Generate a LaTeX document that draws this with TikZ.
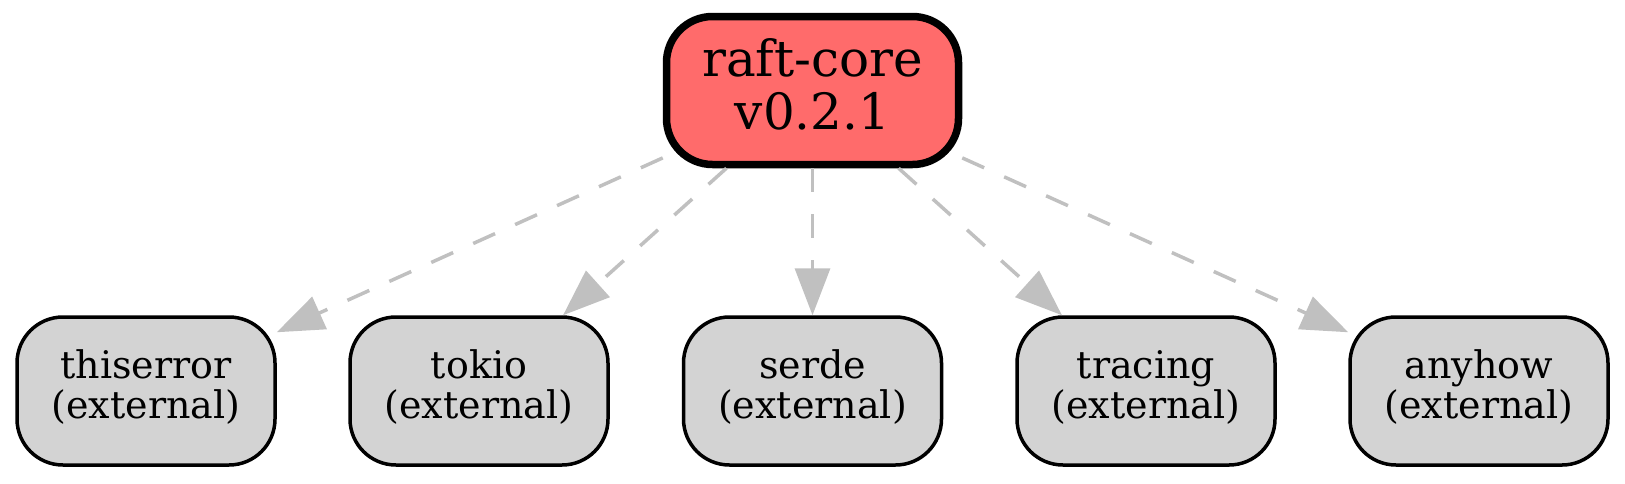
\documentclass[tikz,border=0pt]{standalone}
\usepackage{fontspec}
\setmainfont{DejaVu Serif}
\usetikzlibrary{arrows.meta}
\definecolor{topfill}{HTML}{FF6B6B}
\definecolor{extfill}{HTML}{D3D3D3}
\definecolor{edgegray}{HTML}{C0C0C0}
\begin{document}
\begin{tikzpicture}[x=1pt,y=-1pt,
  rootbox/.style={draw=black, fill=topfill, line width=7.5pt, rounded corners=46pt,
    minimum width=292pt, minimum height=148pt, inner sep=0pt},
  roottext/.style={inner sep=0pt, align=center, font=\fontsize{50}{53}\selectfont},
  extbox/.style={draw=black, fill=extfill, line width=3.5pt, rounded corners=46pt,
    minimum width=258pt, minimum height=148pt, inner sep=0pt},
  exttext/.style={inner sep=0pt, align=center, font=\fontsize{38}{40}\selectfont},
  depedge/.style={draw=edgegray, line width=3.5pt, dash pattern=on 24pt off 22pt,
    -{Triangle[length=47pt,width=35pt]}}
]
\useasboundingbox (0,0) rectangle (1625,483);
\node[rootbox] (core) at (812.5,90.5) {};
\node[extbox] (thiserror) at (146,391) {};
\node[extbox] (tokio) at (479,391) {};
\node[extbox] (serde) at (812.5,391) {};
\node[extbox] (tracing) at (1146,391) {};
\node[extbox] (anyhow) at (1479,391) {};
\node[roottext] (coret) at ([yshift=6pt]core.center) {raft-core\\v0.2.1};
\node[exttext] (thiserrort) at ([yshift=4pt]thiserror.center) {thiserror\\(external)};
\node[exttext] (tokiot) at ([yshift=4pt]tokio.center) {tokio\\(external)};
\node[exttext] (serdet) at ([yshift=4pt]serde.center) {serde\\(external)};
\node[exttext] (tracingt) at ([yshift=4pt]tracing.center) {tracing\\(external)};
\node[exttext] (anyhowt) at ([yshift=4pt]anyhow.center) {anyhow\\(external)};
\draw[depedge] (core) -- (thiserror);
\draw[depedge] (core) -- (tokio);
\draw[depedge] (core) -- (serde);
\draw[depedge] (core) -- (tracing);
\draw[depedge] (core) -- (anyhow);
\end{tikzpicture}
\end{document}
